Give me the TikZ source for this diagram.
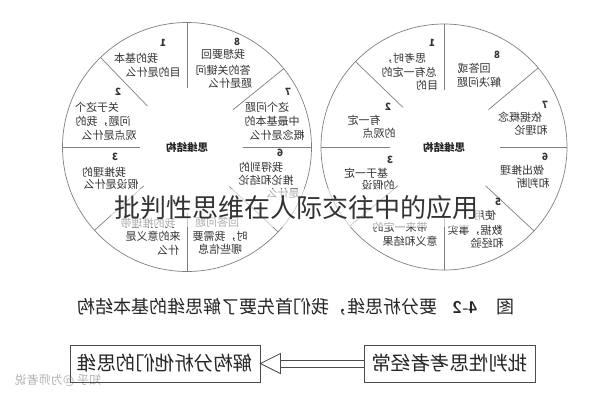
\documentclass[tikz,border=0pt]{standalone}
\usepackage{fontspec}
\usepackage{graphicx}
\newfontfamily\cjk{Noto Sans CJK SC}
\usetikzlibrary{calc}
\begin{document}
\begin{tikzpicture}[x=1pt,y=-1pt,
  rim/.style={draw=black!50, line width=0.7pt},
  sep/.style={draw=black!50, line width=0.7pt},
  t/.style={font=\cjk\fontsize{11}{13}\selectfont, text=black!80, xscale=-1, inner sep=0pt},
  num/.style={font=\cjk\bfseries\fontsize{10}{10}\selectfont, text=black!80, xscale=-1, inner sep=0pt},
  ctr/.style={font=\cjk\bfseries\fontsize{10.5}{12}\selectfont, text=black!85, xscale=-1, inner sep=0pt},
  capt/.style={font=\cjk\fontsize{18}{20}\selectfont, text=black!85, xscale=-1, inner sep=0pt},
  box/.style={draw=black!70, line width=0.8pt, font=\cjk\fontsize{19.5}{22}\selectfont, text=black!85, inner sep=0pt},
  arr/.style={draw=black!70, line width=0.8pt, line join=miter},
  wmark/.style={font=\cjk\fontsize{12}{12}\selectfont, text=black!30, xscale=-1, inner sep=0pt},
  ttl/.style={font=\cjk\fontsize{26}{26}\selectfont, text=black!80, fill=white, fill opacity=0.6, text opacity=1, inner xsep=3pt, inner ysep=7pt}
]
\useasboundingbox[fill=white] (0,0) rectangle (591,400);

% ---------- circles ----------
\coordinate (L) at (187,147);
\coordinate (R) at (444,147);
\draw[rim] (L) circle[radius=124.5pt];
\draw[rim] (R) circle[radius=123pt];
\foreach \a/\ri in {90/59,270/66,180/47,0/56,134/57,39/59,222/58,-43/58}
  \draw[sep] ($(L)+(\a:\ri pt)$) -- ($(L)+(\a:124.5pt)$);
\foreach \a/\ri in {90/57,270/66,180/54,0/56,136/57,40/58,220/60,-43/57}
  \draw[sep] ($(R)+(\a:\ri pt)$) -- ($(R)+(\a:123pt)$);

% ---------- left circle texts ----------
\node[ctr] (lc) at (187,147) {思维结构};
\node[num] (l1n) at (163,43) {1};
\node[t] (l1a) at (136,58) {我的基本};
\node[t] (l1b) at (153,72) {目的是什么};
\node[num] (l8n) at (237,42) {8};
\node[t] (l8a) at (223,54) {我想要回};
\node[t] (l8b) at (223,70) {答的关键问};
\node[t] (l8c) at (230,83) {题是什么};
\node[num] (l2n) at (118,92) {2};
\node[t] (l2a) at (97,107) {关于这个};
\node[t] (l2b) at (103,121) {问题，我的};
\node[t] (l2c) at (109,135) {观点是什么};
\node[num] (l7n) at (288,92) {7};
\node[t] (l7a) at (267,107) {这个问题};
\node[t] (l7b) at (272,121) {中最基本的};
\node[t] (l7c) at (277,135) {概念是什么};
\node[num] (l3n) at (115,157) {3};
\node[t] (l3a) at (104,172) {我推理的};
\node[t] (l3b) at (111,184) {假设是什么};
\node[num] (l6n) at (280,153) {6};
\node[t] (l6a) at (261,167) {我得到的};
\node[t] (l6b) at (266,180) {推论和结论};
\node[t] (l6c) at (283,193) {是什么};
\node[t] (l4a) at (148,223) {我的推理带};
\node[t] (l4b) at (153,236) {来的意义是};
\node[t] (l4c) at (168,250) {什么};
\node[t] (l5a) at (217,222) {回答问题};
\node[t] (l5b) at (220,236) {时，我需要};
\node[t] (l5c) at (220,249) {哪些信息};

% ---------- right circle texts ----------
\node[ctr] (rc) at (444,147) {思维结构};
\node[num] (r1n) at (432,43) {1};
\node[t] (r1a) at (404,58) {思考时，};
\node[t] (r1b) at (409,72) {总有一定的};
\node[t] (r1c) at (427,85) {目的};
\node[num] (r8n) at (497,55) {8};
\node[t] (r8a) at (474,68) {回答或};
\node[t] (r8b) at (479,82) {解决问题};
\node[num] (r2n) at (388,107) {2};
\node[t] (r2a) at (364,120) {有一定};
\node[t] (r2b) at (379,133) {的观点};
\node[num] (r7n) at (545,105) {7};
\node[t] (r7a) at (520,117) {依据概念};
\node[t] (r7b) at (531,130) {和理论};
\node[num] (r3n) at (390,160) {3};
\node[t] (r3a) at (366,173) {基于一定};
\node[t] (r3b) at (378,185) {的假设};
\node[num] (r6n) at (545,157) {6};
\node[t] (r6a) at (522,170) {做出推理};
\node[t] (r6b) at (533,183) {和判断};
\node[t] (r4a) at (400,227) {带来一定的};
\node[t] (r4b) at (410,241) {意义和结果};
\node[num] (r5n) at (498,202) {5};
\node[t] (r5a) at (485,215) {使用};
\node[t] (r5b) at (475,230) {数据，事实};
\node[t] (r5c) at (487,243) {和经验};

% ---------- caption ----------
\node[capt] (cap1) at (505,307) {图};
\node[capt, font=\sffamily\bfseries\fontsize{17}{20}\selectfont] (cap2) at (465,307) {4-2};
\node[capt] (cap3) at (257,307) {要分析思维，我们首先要了解思维的基本结构};

% ---------- watermark ----------
\node[wmark] (wm) at (58,380) {知乎 @为师者说};

% ---------- boxes and arrow ----------
\node[box, minimum width=190, minimum height=37] (boxL) at (165,363.5) {\reflectbox{解构分析他们的思维}};
\node[box, minimum width=171, minimum height=37] (boxR) at (449.5,363.5) {\reflectbox{批判性思考者经常}};
\coordinate (tip) at (boxL.east);
\draw[arr] (tip) -- ($(tip)+(20,-10)$) -- ($(tip)+(20,10)$) -- cycle;
\draw[arr] ($(tip)+(20,-3.5)$) -- ($(boxR.west)+(0,-3.5)$);
\draw[arr] ($(tip)+(20,3.5)$) -- ($(boxR.west)+(0,3.5)$);

% ---------- overlay title ----------
\node[ttl] (title) at (296,208) {批判性思维在人际交往中的应用};
\end{tikzpicture}
\end{document}
